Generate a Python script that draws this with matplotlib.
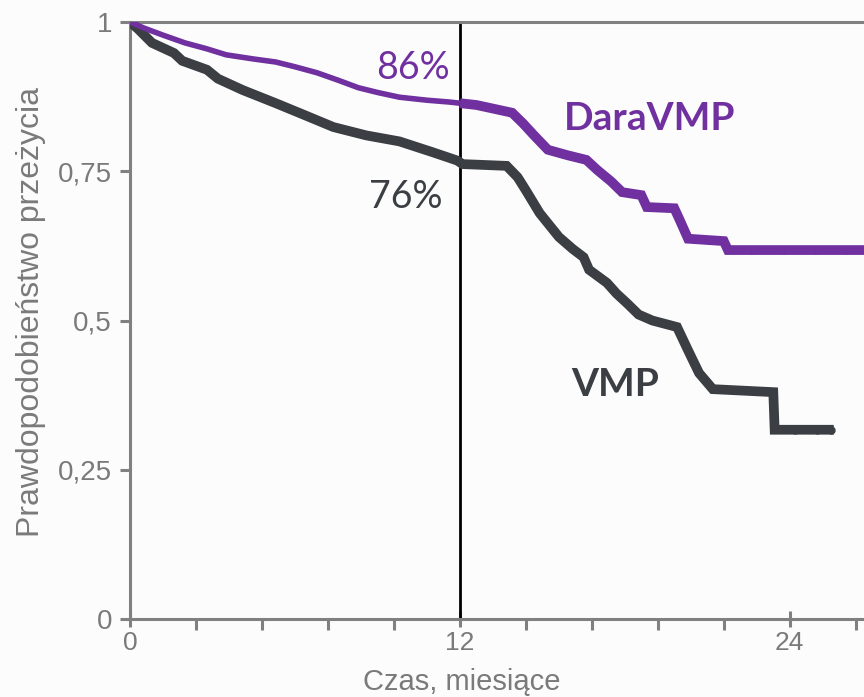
import numpy as np
import matplotlib
matplotlib.use("Agg")
import matplotlib.pyplot as plt
from matplotlib.ticker import MultipleLocator, FixedLocator

# ---- data ----
dara_t = [0, 0.5, 1.2, 2.0, 2.8, 3.5, 4.5, 5.3, 6.0, 6.8, 7.6, 8.3, 9.0, 9.8, 10.8,
          11.6, 12.0, 12.6, 13.4, 13.9, 14.3, 14.7, 15.2, 15.9, 16.6, 17.0, 17.5,
          17.9, 18.6, 18.8, 19.8, 20.0, 20.3, 21.6, 21.75, 26.7]
dara_s = [1.0, 0.99, 0.978, 0.965, 0.955, 0.945, 0.938, 0.933, 0.925, 0.915, 0.902,
          0.89, 0.882, 0.874, 0.869, 0.866, 0.864, 0.861, 0.853, 0.848, 0.83, 0.81,
          0.786, 0.777, 0.769, 0.752, 0.733, 0.715, 0.71, 0.69, 0.688, 0.668, 0.637,
          0.633, 0.618, 0.618]
vmp_t = [0, 0.3, 0.8, 1.6, 1.9, 2.8, 3.2, 4.1, 5.3, 6.25, 7.4, 8.6, 9.8, 11.0,
         11.9, 12.1, 13.7, 14.1, 14.4, 14.9, 15.6, 16.1, 16.5, 16.7, 17.35, 17.7,
         18.1, 18.5, 19.0, 19.9, 20.3, 20.7, 21.2, 23.4, 23.45, 25.6]
vmp_s = [1.0, 0.988, 0.965, 0.948, 0.935, 0.92, 0.905, 0.886, 0.864, 0.846, 0.824,
         0.81, 0.80, 0.782, 0.768, 0.762, 0.759, 0.74, 0.718, 0.68, 0.64, 0.62, 0.606,
         0.585, 0.563, 0.545, 0.528, 0.51, 0.50, 0.489, 0.45, 0.412, 0.385, 0.38,
         0.317, 0.317]
dara_cens_t = [22.6, 23.8, 24.9, 26.0]
vmp_cens_t = [24.2, 25.0, 25.5]

x_ticks = [0, 12, 24]
x_tick_labels = ["0", "12", "24"]
y_ticks = [0, 0.25, 0.5, 0.75, 1]
y_tick_labels = ["0", "0,25", "0,5", "0,75", "1"]
landmark = 12
dara_label, vmp_label = "DaraVMP", "VMP"
dara_pct, vmp_pct = "86%", "76%"
xlabel = "Czas, miesiące"
ylabel = "Prawdopodobieństwo przeżycia"

PURPLE = "#7030A0"
DARK = "#3B3E43"
GRAY = "#808080"
TXT = "#7a7a7a"

fig = plt.figure(figsize=(8.64, 6.97), dpi=100, facecolor="#fcfcfc")
ax = fig.add_axes([130 / 864, 1 - 619 / 697, 1 - 130 / 864, (619 - 22) / 697])
ax.set_facecolor("#fcfcfc")
ax.set_xlim(0, 26.7)
ax.set_ylim(0, 1)

# landmark line
ax.axvline(landmark, color="black", lw=2.0, zorder=2)

# VMP curve
ax.plot(vmp_t, vmp_s, color=DARK, lw=7, zorder=3,
        solid_joinstyle="miter", solid_capstyle="butt")
ax.plot(vmp_cens_t, [vmp_s[-1]] * len(vmp_cens_t), "o", color=DARK, ms=5, zorder=3)

# DaraVMP curve: thinner before landmark, thicker after
dt = np.array(dara_t)
ds = np.array(dara_s)
pre = dt <= landmark
ax.plot(dt[pre], ds[pre], color=PURPLE, lw=4.0, zorder=4,
        solid_joinstyle="miter", solid_capstyle="butt")
post = dt >= landmark
ax.plot(dt[post], ds[post], color=PURPLE, lw=7, zorder=4,
        solid_joinstyle="miter", solid_capstyle="butt")
ax.plot(dara_cens_t, [dara_s[-1]] * len(dara_cens_t), "o", color=PURPLE, ms=5, zorder=4)

# spines
for side in ["left", "bottom", "top"]:
    ax.spines[side].set_color(GRAY)
    ax.spines[side].set_linewidth(2.2)
ax.spines["right"].set_visible(False)

# ticks
ax.xaxis.set_major_locator(FixedLocator(x_ticks))
ax.set_xticklabels(x_tick_labels)
ax.xaxis.set_minor_locator(MultipleLocator(2.4))
ax.yaxis.set_major_locator(FixedLocator(y_ticks))
ax.set_yticklabels(y_tick_labels)
ax.tick_params(axis="x", which="major", direction="inout", length=12, width=2.2,
               color=GRAY, labelsize=19, labelcolor=TXT, pad=3)
ax.tick_params(axis="x", which="minor", direction="out", length=8, width=2.2, color=GRAY)
ax.tick_params(axis="y", which="major", direction="out", length=7, width=2.2,
               color=GRAY, labelsize=20, labelcolor=TXT, pad=6)
for lab in ax.get_xticklabels() + ax.get_yticklabels():
    lab.set_fontfamily("Liberation Sans")

# axis titles
fig.text(31 / 864, 1 - 312 / 697, ylabel, rotation=90, ha="center", va="center",
         fontsize=23, color=TXT, family="Liberation Sans")
fig.text(462 / 864, 1 - 682 / 697, xlabel, ha="center", va="center",
         fontsize=21, color=TXT, family="Liberation Sans")

# annotations
ax.text(10.29, 0.923, dara_pct, ha="center", va="center", fontsize=27,
        color=PURPLE, family="Lato")
ax.text(10.04, 0.707, vmp_pct, ha="center", va="center", fontsize=27,
        color=DARK, family="Lato")
ax.text(18.9, 0.839, dara_label, ha="center", va="center", fontsize=28,
        color=PURPLE, family="Lato", fontweight="bold")
ax.text(17.64, 0.392, vmp_label, ha="center", va="center", fontsize=28,
        color=DARK, family="Lato", fontweight="bold")

fig.savefig("out.png", dpi=100, facecolor=fig.get_facecolor())
